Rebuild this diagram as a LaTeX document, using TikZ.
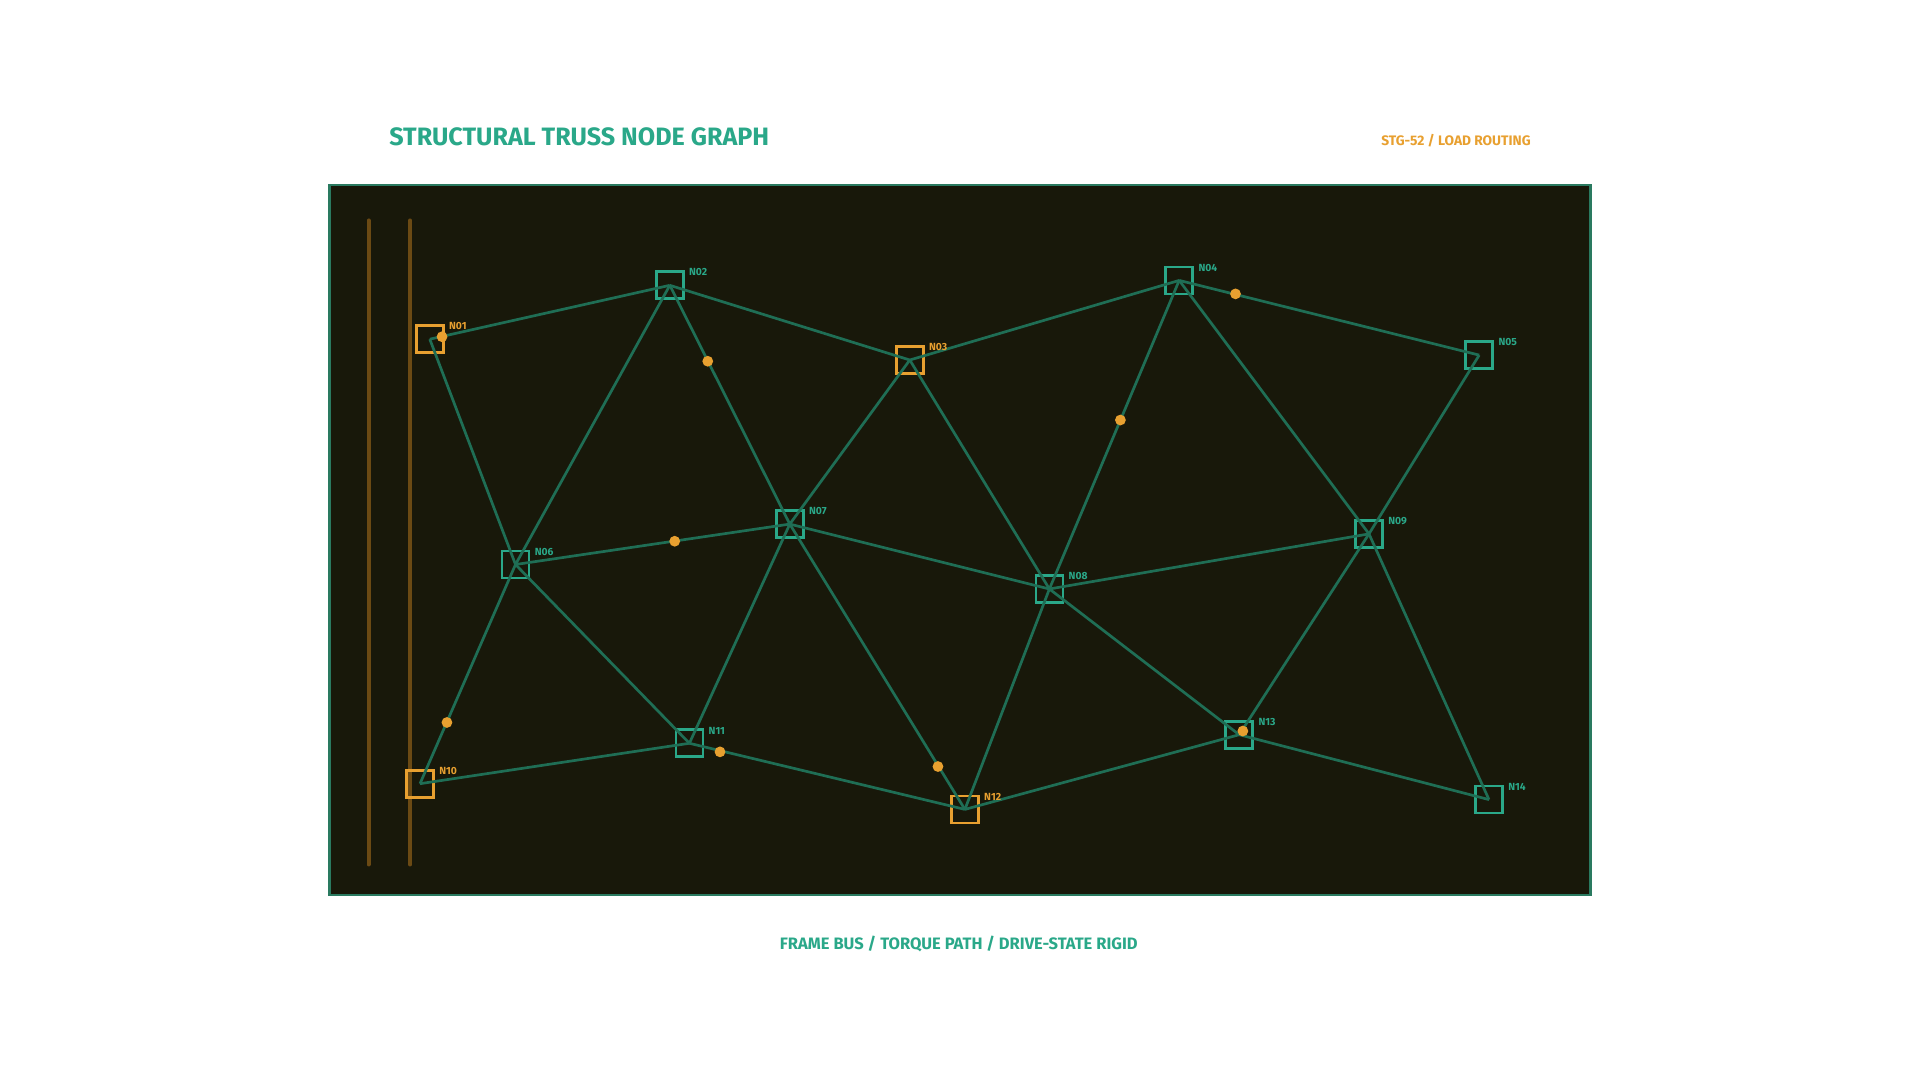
\documentclass[tikz,border=0pt]{standalone}
\usepackage{fontspec}
\setmainfont{Fira Sans}
\usepackage{xcolor}
\definecolor{panel}{HTML}{18180A}
\definecolor{rim}{HTML}{2A7A60}
\definecolor{teal}{HTML}{2AA889}
\definecolor{amber}{HTML}{E8A030}
\definecolor{member}{HTML}{1F6E55}
\definecolor{rail}{HTML}{6B4A14}

\begin{document}
\begin{tikzpicture}[
    x=0.25mm, y=-0.25mm,
    joint/.style={rectangle, draw=teal, line width=0.55mm, minimum size=5.5mm, inner sep=0pt},
    anchorjoint/.style={joint, draw=amber},
    tag/.style={font=\bfseries\fontsize{6}{6}\selectfont, text=teal, anchor=west, inner sep=1pt, xshift=0.5mm, yshift=-0.4mm},
    anchortag/.style={tag, text=amber},
    bar/.style={draw=member, line width=0.55mm},
    load/.style={circle, fill=amber, inner sep=0pt, minimum size=2.2mm}
]

% Canvas
\useasboundingbox (0,0) rectangle (1568,882);
\fill[white] (0,0) rectangle (1568,882);

% Titles
\node[anchor=west, font=\bfseries\fontsize{14.6}{14.6}\selectfont, text=teal] (title) at (313,112) {STRUCTURAL TRUSS NODE GRAPH};
\node[anchor=east, font=\bfseries\fontsize{8}{8}\selectfont, text=amber] (stage) at (1255,115) {STG-52 / LOAD ROUTING};
\node[font=\bfseries\fontsize{9.6}{9.6}\selectfont, text=teal] (footer) at (783,771) {FRAME BUS / TORQUE PATH / DRIVE-STATE RIGID};

% Panel
\draw[rim, fill=panel, line width=0.55mm] (269,151) rectangle (1299,731);

% Rails
\draw[rail, line width=0.8mm, line cap=round] (301,180) -- (301,706);
\draw[rail, line width=0.8mm, line cap=round] (335,180) -- (335,706);

% Joints
\node[anchorjoint] (n01) at (351,277) {};
\node[joint] (n02) at (547,233) {};
\node[anchorjoint] (n03) at (743,294) {};
\node[joint] (n04) at (963,229) {};
\node[joint] (n05) at (1208,290) {};
\node[joint] (n06) at (421,461) {};
\node[joint] (n07) at (645,428) {};
\node[joint] (n08) at (857,481) {};
\node[joint] (n09) at (1118,436) {};
\node[anchorjoint] (n10) at (343,640) {};
\node[joint] (n11) at (563,607) {};
\node[anchorjoint] (n12) at (788,661) {};
\node[joint] (n13) at (1012,600) {};
\node[joint] (n14) at (1216,653) {};

% Members
\foreach \a/\b in {n01/n02, n01/n06, n02/n03, n02/n06, n02/n07, n03/n04, n03/n07, n03/n08,
    n04/n05, n04/n08, n04/n09, n05/n09, n06/n07, n06/n10, n06/n11, n07/n08, n07/n11, n07/n12,
    n08/n09, n08/n12, n08/n13, n09/n13, n09/n14, n10/n11, n11/n12, n12/n13, n13/n14}
    \draw[bar] (\a.center) -- (\b.center);

% Labels
\foreach \n/\t in {n02/N02, n04/N04, n05/N05, n06/N06, n07/N07, n08/N08, n09/N09, n11/N11, n13/N13, n14/N14}
    \node[tag] at (\n.north east) {\t};
\foreach \n/\t in {n01/N01, n03/N03, n10/N10, n12/N12}
    \node[anchortag] at (\n.north east) {\t};

% Load points
\foreach \p/\x/\y in {l1/361/275, l2/578/295, l3/1009/240, l4/915/343, l5/551/442,
    l6/365/590, l7/588/614, l8/766/626, l9/1015/597}
    \node[load] (\p) at (\x,\y) {};

\end{tikzpicture}
\end{document}
